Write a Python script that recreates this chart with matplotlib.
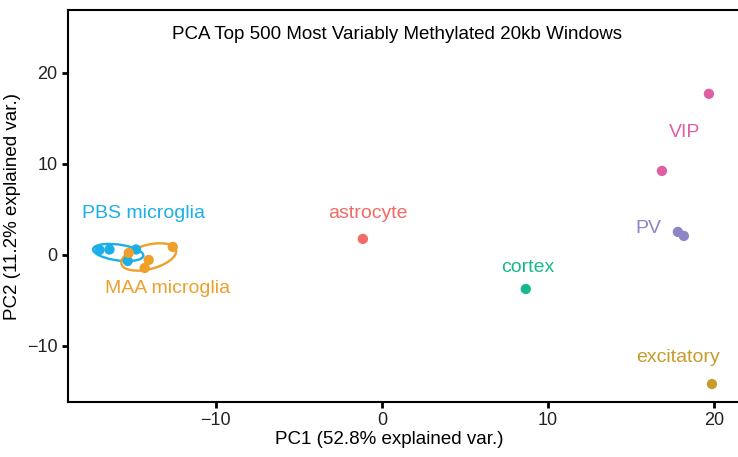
import numpy as np
import matplotlib.pyplot as plt
from matplotlib.patches import Ellipse

plt.rcParams['font.family'] = ['Liberation Sans', 'DejaVu Sans']

groups = ["PBS microglia", "MAA microglia", "astrocyte", "cortex", "VIP", "PV", "excitatory"]
colors = ["#1AAFE6", "#EFA02A", "#F26B67", "#17B98C", "#DE5FA3", "#8E85C6", "#C99B2B"]
pc1 = {
    "PBS microglia": [-17.0, -16.4, -14.8, -15.3],
    "MAA microglia": [-15.24, -14.04, -14.28, -12.59],
    "astrocyte": [-1.14],
    "cortex": [8.67],
    "VIP": [19.7, 16.87],
    "PV": [17.83, 18.19],
    "excitatory": [19.88],
}
pc2 = {
    "PBS microglia": [0.55, 0.6, 0.6, -0.66],
    "MAA microglia": [0.22, -0.55, -1.43, 0.88],
    "astrocyte": [1.76],
    "cortex": [-3.74],
    "VIP": [17.7, 9.23],
    "PV": [2.53, 2.09],
    "excitatory": [-14.18],
}
label_x = [-14.34, -12.9, -0.84, 8.8, 18.25, 16.08, 17.83]
label_y = [4.6, -3.74, 4.6, -1.43, 13.5, 2.86, -11.3]
ellipse_groups = ["PBS microglia", "MAA microglia"]

fig = plt.figure(figsize=(7.38, 4.57), dpi=100)
ax = fig.add_axes([0.0921, 0.1204, 0.9079, 0.8576])

for g, c, lx, ly in zip(groups, colors, label_x, label_y):
    x = np.array(pc1[g])
    y = np.array(pc2[g])
    ax.scatter(x, y, s=55, color=c, edgecolors="none", zorder=3)
    ax.text(lx, ly, g, color=c, fontsize=14, ha="center", va="center")
    if g in ellipse_groups:
        # 68% normal data ellipse, like ggbiplot
        cov = np.cov(x, y)
        vals, vecs = np.linalg.eigh(cov)
        r = np.sqrt(2.2789)
        ang = np.degrees(np.arctan2(vecs[1, 1], vecs[0, 1]))
        e = Ellipse((x.mean(), y.mean()), 2 * r * np.sqrt(vals[1]), 2 * r * np.sqrt(vals[0]),
                    angle=ang, fill=False, edgecolor=c, lw=1.7)
        ax.add_patch(e)

ax.set_xlim(-18.9, 21.45)
ax.set_ylim(-16.15, 26.9)
ax.set_xticks([-10, 0, 10, 20])
ax.set_yticks([-10, 0, 10, 20])
ax.set_xticklabels(["\u221210", "0", "10", "20"])
ax.set_yticklabels(["\u221210", "0", "10", "20"])
ax.tick_params(length=4, width=2, labelsize=13, colors="black", labelcolor="#222222")
for s in ["left", "bottom", "top"]:
    ax.spines[s].set_linewidth(1.5)
ax.spines["right"].set_visible(False)
ax.set_xlabel("PC1 (52.8% explained var.)", fontsize=13.5, labelpad=2)
ax.xaxis.set_label_coords(0.48, -0.075)
ax.set_ylabel("PC2 (11.2% explained var.)", fontsize=13.5, labelpad=4)
ax.text(0.9, 24.2, "PCA Top 500 Most Variably Methylated 20kb Windows",
        fontsize=13.5, ha="center", va="center")

fig.savefig("out.png", dpi=100)
